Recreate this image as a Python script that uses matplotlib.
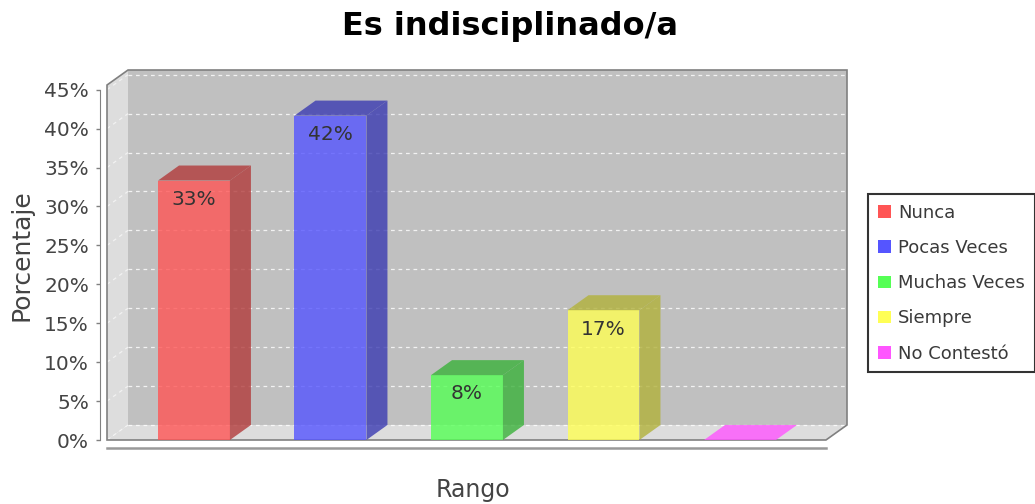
import matplotlib
matplotlib.use('Agg')
import matplotlib.pyplot as plt
from matplotlib.patches import Polygon, Rectangle, Patch

plt.rcParams['font.family'] = ['DejaVu Sans']

# datos
categorias = ['Nunca', 'Pocas Veces', 'Muchas Veces', 'Siempre', 'No Contestó']
porcentajes = [33.33, 41.67, 8.33, 16.67, 0.0]
etiquetas = ['33%', '42%', '8%', '17%', '']
colores = ['#ff5555', '#5555ff', '#55ff55', '#ffff55', '#ff55ff']
oscuros = ['#b23b3b', '#3b3bb2', '#3bb23b', '#b2b23b', '#b23bb2']
ticks_y = [0, 5, 10, 15, 20, 25, 30, 35, 40, 45]

# geometria del "3D" (en unidades de datos)
XL, XR = -0.637, 4.63      # borde frontal izq/der
DX, DY = 0.154, 1.93       # desplazamiento hacia el fondo
TOP = 45.6                 # alto del plano frontal
ANCHO = 0.527

fig = plt.figure(figsize=(10.35, 5.04), dpi=100)
fig.patch.set_facecolor('white')
ax = fig.add_axes([107 / 1035, 64 / 504, 740 / 1035, 370 / 504])
ax.set_xlim(XL, XR + DX)
ax.set_ylim(0, TOP + DY)
ax.patch.set_visible(False)

# paredes
ax.add_patch(Polygon([(XL + DX, DY), (XR + DX, DY), (XR + DX, TOP + DY), (XL + DX, TOP + DY)],
                     closed=True, facecolor='#c0c0c0', edgecolor='none', zorder=1))
ax.add_patch(Polygon([(XL, 0), (XL + DX, DY), (XL + DX, TOP + DY), (XL, TOP)],
                     closed=True, facecolor='#dddddd', edgecolor='none', zorder=1))
ax.add_patch(Polygon([(XL, 0), (XR, 0), (XR + DX, DY), (XL + DX, DY)],
                     closed=True, facecolor='#dddddd', edgecolor='none', zorder=1))

# rejilla
for t in ticks_y:
    ax.plot([XL + DX, XR + DX], [t + DY, t + DY], color='white', lw=0.9,
            ls=(0, (3, 3)), alpha=0.8, zorder=2)
    ax.plot([XL, XL + DX], [t, t + DY], color='white', lw=0.9,
            ls=(0, (3, 3)), alpha=0.6, zorder=2)

# contorno
ax.add_patch(Polygon([(XL, 0), (XL, TOP), (XL + DX, TOP + DY), (XR + DX, TOP + DY),
                      (XR + DX, DY), (XR, 0)], closed=True, facecolor='none',
                     edgecolor='#808080', lw=1.2, zorder=3, clip_on=False))

# barras
for i, v in enumerate(porcentajes):
    x0 = i - ANCHO / 2
    x1 = i + ANCHO / 2
    if v > 0:
        ax.add_patch(Rectangle((x0, 0), ANCHO, v, facecolor=colores[i], alpha=0.8,
                               edgecolor='none', zorder=4))
        ax.add_patch(Polygon([(x1, 0), (x1, v), (x1 + DX, v + DY), (x1 + DX, DY)],
                             closed=True, facecolor=oscuros[i], alpha=0.8,
                             edgecolor='none', zorder=4))
    ax.add_patch(Polygon([(x0, v), (x1, v), (x1 + DX, v + DY), (x0 + DX, v + DY)],
                         closed=True, facecolor=oscuros[i] if v > 0 else colores[i],
                         alpha=0.8, edgecolor='none', zorder=4))
    if etiquetas[i]:
        ax.text(i, v - 1.2, etiquetas[i], ha='center', va='top', fontsize=14.5,
                color='#333333', zorder=5)

# ejes
for s in ['top', 'right']:
    ax.spines[s].set_visible(False)
ax.spines['left'].set_position(('outward', 5))
ax.spines['left'].set_bounds(0, 45)
ax.spines['left'].set_color('#808080')
ax.spines['bottom'].set_position(('outward', 6))
ax.spines['bottom'].set_bounds(XL, XR)
ax.spines['bottom'].set_color('#999999')
ax.spines['bottom'].set_linewidth(1.8)
ax.set_yticks(ticks_y)
ax.set_yticklabels([f'{t}%' for t in ticks_y])
ax.tick_params(axis='y', length=3, width=1, color='#808080', pad=5,
               labelsize=14.5, labelcolor='#444444')
ax.set_xticks([])

fig.text(510 / 1035, 1 - 35 / 504, 'Es indisciplinado/a', ha='center', va='baseline',
         fontsize=23, fontweight='bold', color='black')
fig.text(22 / 1035, 1 - 255 / 504, 'Porcentaje', rotation=90, ha='center', va='center',
         fontsize=18, color='#444444')
fig.text(473 / 1035, 1 - 497 / 504, 'Rango', ha='center', va='baseline',
         fontsize=17, color='#444444')

handles = [Patch(facecolor=c, edgecolor='none') for c in colores]
leg = fig.legend(handles, categorias, loc='upper left',
                 bbox_to_anchor=(868 / 1035, 1 - 194 / 504), fontsize=13,
                 frameon=True, fancybox=False, handlelength=0.7, handleheight=0.7,
                 handletextpad=0.4, labelspacing=0.95, borderpad=0.55,
                 borderaxespad=0)
leg.get_frame().set_edgecolor('black')
leg.get_frame().set_linewidth(1.5)
for t in leg.get_texts():
    t.set_color('#3a3a3a')

fig.savefig('out.png', dpi=100)
